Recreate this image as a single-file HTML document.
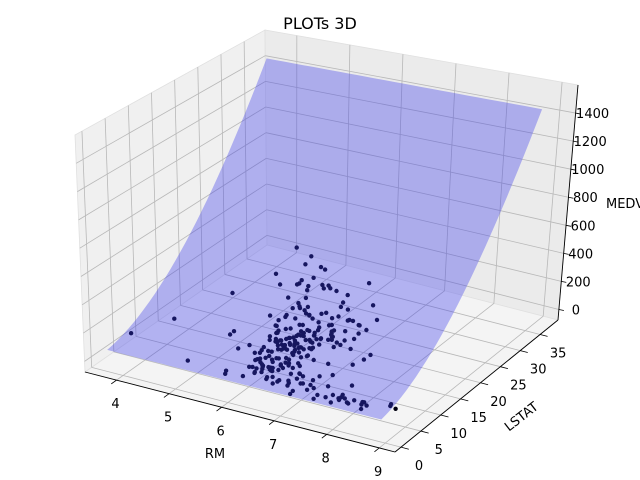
<!DOCTYPE html>
<html><head><meta charset="utf-8"><style>
html,body{margin:0;padding:0;background:#fff;}
svg{display:block;font-family:"DejaVu Sans","Liberation Sans",sans-serif;}
</style></head><body>
<svg id="chart" width="640" height="480" viewBox="0 0 640 480">
<text x="320" y="29" text-anchor="middle" font-size="16">PLOTs 3D</text>
<g id="panes"></g>
<g id="grid"></g>
<g id="points"></g>
<g id="surface"></g>
<g id="axes"></g>
<text x="215" y="458" text-anchor="middle" font-size="13">RM</text>
<text x="0" y="0" text-anchor="middle" font-size="13" transform="translate(524,420) rotate(-38)">LSTAT</text>
<text x="606" y="208" font-size="13">MEDV</text>
</svg>
<script>
const xTicks=[4,5,6,7,8,9];
const yTicks=[0,5,10,15,20,25,30,35];
const zTicks=[0,200,400,600,800,1000,1200,1400];
const xRange=[3.4,9.3], yRange=[-1.5,39.5], zRange=[-75,1600];
const surfX=[3.56,8.78], surfY=[1.73,37.97];
const surfCoef=[20,2,0.92];
const rm=[6.575,6.421,7.185,6.998,7.147,6.43,6.012,6.172,5.631,6.004,
6.377,6.009,5.889,5.949,6.096,5.834,5.935,5.99,5.456,5.727,
5.57,5.965,6.142,5.813,5.924,5.599,5.813,6.047,6.495,6.674,
5.713,6.072,5.95,5.701,6.096,5.933,5.841,5.85,5.966,6.595,
7.024,6.77,6.169,6.211,6.069,5.682,5.786,6.03,5.399,5.602,
7.249,6.816,7.104,8.069,7.82,7.416,5.019,4.903,4.926,5.186,
7.489,7.802,8.375,7.929,6.98,7.765,7.831,7.875,7.61,7.853,
8.034,5.344,5.404,5.412,8.266,8.725,8.04,7.686,8.337,8.247,
8.259,7.454,8.704,7.42,4.973,5.705,6.041,5.708,8.78,3.561,
4.963,3.863,4.97,4.906,4.138,7.313,6.649,6.794,6.38,6.223,
6.968,6.545,5.536,5.52,4.368,5.277,4.652,5.0,4.88,5.39,
5.036,5.747,5.453,5.852,5.987,6.343,5.349,5.683,4.138,4.628,
5.155,4.519,6.434,6.782,5.304,6.824,5.896,6.38,6.152,5.935,
6.459,6.749,7.393,5.093,5.414,6.162,5.304,6.98,6.976,6.03,
6.122,6.023,6.266,6.567,5.914,6.382,6.113,6.426,6.376,6.415,
6.312,6.083,6.333,6.316,6.037,5.895,7.241,6.54,6.874,6.49,
6.728,5.936,6.212,6.127,6.251,5.362,5.803,6.411,6.006,5.648,
6.103,5.565,5.837,6.202,6.193,6.348,6.833,6.425,6.436,6.629,
6.461,5.627,5.818,6.406,6.219,6.485,5.854,6.341,6.251,6.185,
6.417,6.655,6.297,6.728,6.525,5.976,5.936,6.301,6.081,6.701,
6.376,6.317,6.513,6.209,5.759,5.952,6.003,5.926,5.713,6.167,
6.229,6.437,5.427,6.484,6.185,6.242,6.75,7.061,5.762,5.871,
6.312,6.114,5.905,5.454,5.983,5.983,5.707,5.926,5.67,5.39,
5.794,6.019,5.569,6.027,6.593,6.12,6.794,6.065,6.245,6.273,
6.286,6.279,6.14,6.232,5.874,6.727,6.619,6.302,6.167,6.389];
const lstat=[4.98,9.14,4.03,2.94,5.33,5.21,12.43,19.15,29.93,17.1,
20.45,13.27,15.71,8.26,10.26,8.47,6.58,14.67,11.69,11.28,
21.02,13.83,18.72,19.88,16.3,16.51,14.81,17.28,12.8,11.98,
22.6,13.04,27.71,18.35,20.34,9.68,11.41,8.77,10.13,4.32,
1.98,4.84,5.81,7.44,9.55,10.21,14.15,18.8,30.81,16.2,
4.81,3.95,8.05,4.21,3.57,6.19,34.41,29.29,29.53,28.32,
1.73,1.92,3.32,3.7,5.04,7.56,4.45,2.97,3.11,3.81,
2.88,23.09,23.98,29.55,4.14,4.63,3.13,3.92,2.47,3.95,
3.54,3.11,5.12,14.79,13.0,2.98,3.01,3.16,5.29,7.12,
14.0,13.33,3.26,34.77,37.97,13.44,23.24,21.24,23.69,21.78,
17.21,21.08,23.6,24.56,30.63,30.81,28.28,31.99,30.62,20.85,
25.68,19.92,30.59,29.97,26.77,20.32,19.77,22.98,23.34,34.37,
20.08,36.98,29.05,25.79,26.64,22.74,24.39,24.08,26.45,34.02,
23.98,17.44,16.74,29.68,23.97,24.1,24.91,11.66,5.64,7.88,
6.59,7.73,6.58,3.53,6.05,7.19,4.85,3.76,4.59,7.85,
12.93,7.14,9.51,8.58,6.27,15.84,9.5,8.67,6.93,12.64,
7.9,12.58,14.04,14.08,14.19,10.19,14.68,15.02,15.7,14.1,
23.29,17.16,15.69,14.52,21.52,17.64,19.69,12.03,16.22,23.27,
18.05,22.88,22.11,19.52,16.59,18.85,23.79,17.79,16.44,18.13,
19.31,17.73,17.27,18.71,18.13,19.01,16.94,16.23,14.7,16.42,
14.65,13.99,10.29,13.22,14.13,17.15,21.32,18.13,14.76,16.29,
12.87,14.36,18.14,18.68,18.03,10.74,7.74,7.01,10.42,13.34,
10.58,14.98,11.45,18.06,18.07,13.35,12.01,13.59,17.6,21.14,
14.1,12.92,15.1,14.33,9.67,9.08,6.48,5.52,7.54,6.78,
8.94,11.97,10.27,12.34,9.1,5.29,7.22,6.72,7.51,9.62];
const medv=[24,21.6,34.7,33.4,36.2,28.7,22.9,27.1,16.5,18.9,
15,18.9,21.7,20.4,18.2,19.9,23.1,17.5,20.2,18.2,
13.6,19.6,15.2,14.5,15.6,13.9,16.6,14.8,18.4,21,
12.7,14.5,13.2,13.1,13.5,18.9,20,21,24.7,30.8,
34.9,26.6,25.3,24.7,21.2,19.3,20,16.6,14.4,19.4,
35.4,31.6,33,38.7,43.8,33.2,14.4,11.8,14.6,17.8,
50,50,50,50,37.2,39.8,50,50,42.3,48.5,
50,20,19.3,23.7,44.8,50,37.6,46.7,41.7,48.3,
42.8,44,50,30.7,21.1,32,46,50,21.9,27.5,
21.9,23.1,50,13.8,13.8,15,13.9,13.3,13.1,10.2,
10.4,10.9,11.3,12.3,8.8,7.2,10.5,7.4,10.2,11.5,
9.7,8.5,5,6.3,5.6,7.2,8.3,5,11.9,17.9,
16.3,7,7.2,7.5,10.4,8.4,8.3,9.5,8.7,8.4,
11.8,13.4,17.8,8.1,7,13.3,12,29.8,23.9,11.9,
25.2,24.4,35.2,32.4,33.2,29.1,35.1,45.4,35.4,32.2,
20.1,23.2,24.8,23.9,28.6,20.3,22,26.4,36.1,16.1,
21.6,16.2,17.8,23.1,21.4,20.6,19.3,16.7,14.2,20.8,
13.4,11.7,10.2,10.9,11,14.5,14.1,16.1,14.3,13.4,
9.6,12.8,10.5,17.1,18.4,15.4,10.8,14.9,12.6,14.1,
13,15.2,16.1,14.9,14.1,12.7,13.5,14.9,20,16.4,
17.7,19.5,20.2,21.4,19.9,19,19.1,19.1,20.1,19.9,
19.6,23.2,13.8,16.7,14.6,23,23.7,25,21.8,20.6,
21.2,19.1,20.6,15.2,13.6,20.1,21.8,24.5,23.1,19.7,
18.3,21.2,17.5,16.8,22.4,20.6,22,22.8,23.4,24.1,
21.4,20,20.8,21.2,20.3,28,23.9,24.8,22.9,23.9];

const NS='http://www.w3.org/2000/svg';
const C={'000':[85,372],'100':[395,452],'010':[267,245],'110':[558,320],
'001':[75,135],'101':[407,200],'011':[265,30],'111':[578,85]};
function lerp(a,b,t){return [a[0]+(b[0]-a[0])*t,a[1]+(b[1]-a[1])*t];}
function proj(x,y,z){
  const u=(x-xRange[0])/(xRange[1]-xRange[0]);
  const v=(y-yRange[0])/(yRange[1]-yRange[0]);
  const w=(z-zRange[0])/(zRange[1]-zRange[0]);
  const b=lerp(lerp(C['000'],C['100'],u),lerp(C['010'],C['110'],u),v);
  const t=lerp(lerp(C['001'],C['101'],u),lerp(C['011'],C['111'],u),v);
  return lerp(b,t,w);
}
function mk(tag,attrs,parent){const e=document.createElementNS(NS,tag);for(const k in attrs)e.setAttribute(k,attrs[k]);parent.appendChild(e);return e;}
function poly(pts){return pts.map(p=>p[0].toFixed(1)+','+p[1].toFixed(1)).join(' ');}
const [x0,x1]=xRange,[y0,y1]=yRange,[z0,z1]=zRange;
const panes=document.getElementById('panes');
let p;
p=mk('polygon',{points:poly([proj(x0,y0,z0),proj(x0,y1,z0),proj(x0,y1,z1),proj(x0,y0,z1)]),fill:'#f0f0f0',stroke:'#e0e0e0','stroke-width':0.8},panes);


p=mk('polygon',{points:poly([proj(x0,y1,z0),proj(x1,y1,z0),proj(x1,y1,z1),proj(x0,y1,z1)]),fill:'#ebebeb',stroke:'#e0e0e0','stroke-width':0.8},panes);


p=mk('polygon',{points:poly([proj(x0,y0,z0),proj(x1,y0,z0),proj(x1,y1,z0),proj(x0,y1,z0)]),fill:'#f4f4f4',stroke:'#e0e0e0','stroke-width':0.8},panes);



const grid=document.getElementById('grid');
function gl(a,b,name){const l=mk('line',{x1:a[0],y1:a[1],x2:b[0],y2:b[1],stroke:'#b8b8b8','stroke-width':0.8},grid);

}
xTicks.forEach(t=>{gl(proj(t,y0,z0),proj(t,y1,z0),'x-grid-floor');gl(proj(t,y1,z0),proj(t,y1,z1),'x-grid-back');});
yTicks.forEach(t=>{gl(proj(x1,t,z0),proj(x0,t,z0),'y-grid-floor');gl(proj(x0,t,z0),proj(x0,t,z1),'y-grid-left');});
zTicks.forEach(t=>{gl(proj(x0,y0,t),proj(x0,y1,t),'z-grid-left');gl(proj(x0,y1,t),proj(x1,y1,t),'z-grid-back');});

const pg=document.getElementById('points');
for(let i=0;i<rm.length;i++){
  const q=proj(rm[i],lstat[i],medv[i]);
  const c=mk('circle',{cx:q[0].toFixed(1),cy:q[1].toFixed(1),r:2.2,fill:'#000010'},pg);
  
  
}

function fz(L){return surfCoef[0]+surfCoef[1]*L+surfCoef[2]*L*L;}
const sg=document.getElementById('surface');
const N=30, outline=[];
for(let i=0;i<=N;i++){const x=surfX[0]+(surfX[1]-surfX[0])*i/N;outline.push(proj(x,surfY[0],fz(surfY[0])));}
for(let i=0;i<=N;i++){const y=surfY[0]+(surfY[1]-surfY[0])*i/N;outline.push(proj(surfX[1],y,fz(y)));}
for(let i=N;i>=0;i--){const x=surfX[0]+(surfX[1]-surfX[0])*i/N;outline.push(proj(x,surfY[1],fz(surfY[1])));}
for(let i=N;i>=0;i--){const y=surfY[0]+(surfY[1]-surfY[0])*i/N;outline.push(proj(surfX[0],y,fz(y)));}
const s=mk('polygon',{points:poly(outline),fill:'rgb(60,60,235)','fill-opacity':0.36},sg);



const ax=document.getElementById('axes');
function al(a,b,name,w){const l=mk('line',{x1:a[0],y1:a[1],x2:b[0],y2:b[1],stroke:'#000','stroke-width':w},ax);

}
function tl(txt,q,anchor,name){const t=mk('text',{x:q[0].toFixed(1),y:q[1].toFixed(1),'text-anchor':anchor,'font-size':13},ax);t.textContent=txt;

}
al(proj(x0,y0,z0),proj(x1,y0,z0),'x-axis-line',0.9);
al(proj(x1,y0,z0),proj(x1,y1,z0),'y-axis-line',0.9);
al(proj(x1,y1,z0),proj(x1,y1,z1),'z-axis-line',0.9);
xTicks.forEach(t=>{const a=proj(t,y0,z0),b=proj(t,y0-1.2,z0);al(a,b,'x-tick',0.8);tl(String(t),[a[0]-1,a[1]+28],'middle','x-tick-label');});
yTicks.forEach(t=>{const a=proj(x1,t,z0),b=proj(x1+0.15,t,z0);al(a,b,'y-tick',0.8);tl(String(t),[a[0]+18,a[1]+23],'middle','y-tick-label');});
zTicks.forEach(t=>{const a=proj(x1,y1,t);al(a,[a[0]+5,a[1]+1],'z-tick',0.8);tl(String(t),[a[0]+17,a[1]+5],'middle','z-tick-label');});
</script>
</body></html>
